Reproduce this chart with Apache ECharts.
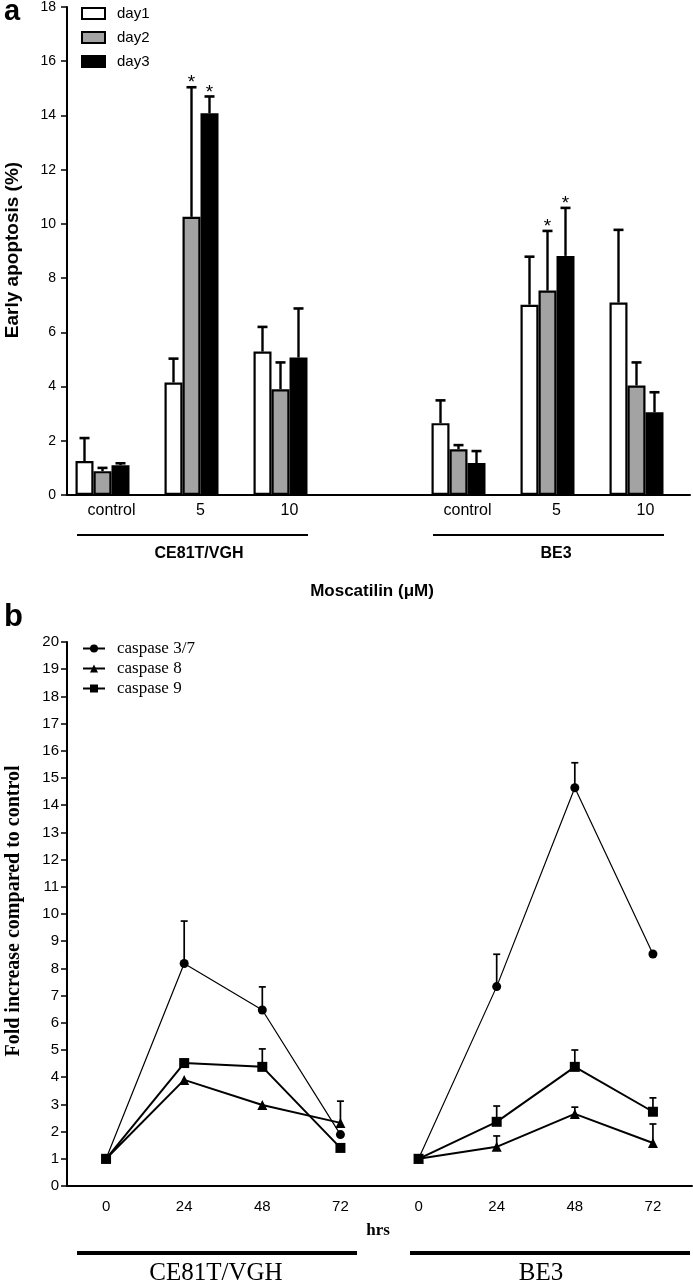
<!DOCTYPE html>
<html><head><meta charset="utf-8">
<script src="https://cdn.jsdelivr.net/npm/echarts@6/dist/echarts.min.js"></script>
<style>html,body{margin:0;padding:0;background:#fff}#c{width:693px;height:1281px}</style>
</head><body><div id="c"></div>
<script>
// ---------- Panel a data ----------
const doseCategories = ['control', '5', '10', '', 'control', '5', '10'];
const day1 = [1.25, 4.15, 5.29, '-', 2.65, 7.02, 7.10];
const day2 = [0.88, 10.26, 3.90, '-', 1.69, 7.54, 4.04];
const day3 = [1.10, 14.08, 5.07, '-', 1.18, 8.82, 3.05];
const day1Upper = [2.10, 5.03, 6.20, '-', 3.49, 8.79, 9.78];
const day2Upper = [1.00, 15.04, 4.89, '-', 1.84, 9.74, 4.89];
const day3Upper = [1.17, 14.70, 6.88, '-', 1.62, 10.59, 3.79];
const day1Sig = ['', '', '', '', '', '', ''];
const day2Sig = ['', '*', '', '', '', '*', ''];
const day3Sig = ['', '*', '', '', '', '*', ''];

// ---------- Panel b data ----------
const hourCategories = ['0', '24', '48', '72', '0', '24', '48', '72'];
const casp37CE = [1, 8.18, 6.47, 1.89];
const casp8CE  = [1, 3.90, 2.98, 2.32];
const casp9CE  = [1, 4.52, 4.38, 1.40];
const casp37BE = [1, 7.33, 14.64, 8.53];
const casp8BE  = [1, 1.44, 2.65, 1.58];
const casp9BE  = [1, 2.36, 4.38, 2.73];
const casp37CEUpper = [null, 9.74, 7.32, null];
const casp8CEUpper  = [null, null, null, 3.12];
const casp9CEUpper  = [null, null, 5.04, null];
const casp37BEUpper = [null, 8.52, 15.56, null];
const casp8BEUpper  = [null, 1.84, 2.90, 2.28];
const casp9BEUpper  = [null, 2.94, 5.00, 3.24];

// ---------- styling constants ----------
const SANS = '"Liberation Sans", Arial, sans-serif';
const SERIF = '"Liberation Serif", "Times New Roman", serif';
const BAR_W = 18;
const INK = '#000';

// error bar data for panel a
const barErr = [], barErrSig = [];
[[day1, day1Upper, day1Sig], [day2, day2Upper, day2Sig], [day3, day3Upper, day3Sig]].forEach((s, k) => {
  s[0].forEach((v, i) => {
    if (v === '-') return;
    barErr.push([i, v, s[1][i], k]);
    barErrSig.push(s[2][i]);
  });
});

function renderBarErr(params, api) {
  const i = api.value(0), v = api.value(1), up = api.value(2), k = api.value(3);
  const off = (k - 1.5) * BAR_W;
  const a = api.coord([i, v]), b = api.coord([i, up]);
  const x = a[0] + off;
  const children = [
    {type: 'line', shape: {x1: x, y1: a[1], x2: x, y2: b[1]}, style: {stroke: INK, lineWidth: 2.4}},
    {type: 'line', shape: {x1: x - 5, y1: b[1], x2: x + 5, y2: b[1]}, style: {stroke: INK, lineWidth: 2.6}}
  ];
  const sig = barErrSig[params.dataIndex];
  if (sig) {
    children.push({type: 'text', style: {x: x, y: b[1] - 4, text: sig, font: '19px ' + SANS, fill: INK,
      textAlign: 'center', textVerticalAlign: 'middle'}});
  }
  return {type: 'group', children};
}

function lineErrData(upper, vals, shift) {
  const out = [];
  upper.forEach((u, i) => { if (u != null) out.push([i + shift, vals[i], u]); });
  return out;
}
const lineErr = [].concat(
  lineErrData(casp37CEUpper, casp37CE, 0), lineErrData(casp8CEUpper, casp8CE, 0), lineErrData(casp9CEUpper, casp9CE, 0),
  lineErrData(casp37BEUpper, casp37BE, 4), lineErrData(casp8BEUpper, casp8BE, 4), lineErrData(casp9BEUpper, casp9BE, 4));

function renderLineErr(params, api) {
  const a = api.coord([api.value(0), api.value(1)]);
  const b = api.coord([api.value(0), api.value(2)]);
  return {type: 'group', children: [
    {type: 'line', shape: {x1: a[0], y1: a[1], x2: b[0], y2: b[1]}, style: {stroke: INK, lineWidth: 1.7}},
    {type: 'line', shape: {x1: b[0] - 3.5, y1: b[1], x2: b[0] + 3.5, y2: b[1]}, style: {stroke: INK, lineWidth: 1.7}}
  ]};
}

const pad = ['-', '-', '-', '-'];
function lineSeries(name, vals, be, symbol, size, lw) {
  return {
    type: 'line', name, xAxisIndex: 1, yAxisIndex: 1,
    data: be ? pad.concat(vals) : vals.concat(pad),
    symbol, symbolSize: size, showSymbol: true,
    lineStyle: {color: '#000', width: lw},
    itemStyle: {color: '#000'}, z: 3, animation: false
  };
}

function barSeries(name, data, color) {
  return {type: 'bar', name, data, xAxisIndex: 0, yAxisIndex: 0,
    barWidth: BAR_W, barGap: '0%',
    itemStyle: {color, borderColor: '#000', borderWidth: 2.2}, animation: false};
}

const chart = echarts.init(document.getElementById('c'), null, {renderer: 'canvas'});
chart.setOption({
  animation: false,
  backgroundColor: '#fff',
  grid: [
    {left: 67, right: 3, top: 5, height: 490},
    {left: 67, right: 1, top: 642, height: 544}
  ],
  xAxis: [
    {type: 'category', gridIndex: 0, data: doseCategories,
      axisLine: {lineStyle: {color: '#000', width: 2}},
      axisTick: {alignWithLabel: true, length: 5, lineStyle: {color: '#000', width: 1.5}},
      axisLabel: {color: INK, fontFamily: SANS, fontSize: 16, margin: 8}},
    {type: 'category', gridIndex: 1, data: hourCategories,
      axisLine: {lineStyle: {color: '#000', width: 2}},
      axisTick: {alignWithLabel: true, length: 5, lineStyle: {color: '#000', width: 1.5}},
      axisLabel: {color: INK, fontFamily: SANS, fontSize: 15, margin: 13}}
  ],
  yAxis: [
    {type: 'value', gridIndex: 0, min: 0, max: 18, interval: 2,
      axisLine: {show: true, lineStyle: {color: '#000', width: 2}},
      axisTick: {show: true, length: 6, lineStyle: {color: '#000', width: 1.5}},
      axisLabel: {color: INK, fontFamily: SANS, fontSize: 14, margin: 11},
      splitLine: {show: false}},
    {type: 'value', gridIndex: 1, min: 0, max: 20, interval: 1,
      axisLine: {show: true, lineStyle: {color: '#000', width: 2}},
      axisTick: {show: true, length: 6, lineStyle: {color: '#000', width: 1.5}},
      axisLabel: {color: INK, fontFamily: SANS, fontSize: 15, margin: 8},
      splitLine: {show: false}}
  ],
  legend: [
    {data: ['day1', 'day2', 'day3'], orient: 'vertical', left: 81, top: 6, padding: 0,
      icon: 'rect', itemWidth: 23, itemHeight: 11, itemGap: 9,
      itemStyle: {borderColor: '#000', borderWidth: 2},
      textStyle: {fontFamily: SANS, fontSize: 15, color: INK, padding: [0, 0, 0, 7]}},
    {data: ['caspase 3/7', 'caspase 8', 'caspase 9'], orient: 'vertical', left: 82, top: 640, padding: 0,
      itemWidth: 22, itemHeight: 10, itemGap: 3,
      textStyle: {fontFamily: SERIF, fontSize: 17, color: INK, padding: [0, 0, 0, 7]}}
  ],
  series: [
    barSeries('day1', day1, '#ffffff'),
    barSeries('day2', day2, '#a3a3a3'),
    barSeries('day3', day3, '#000000'),
    {type: 'bar', name: 'spacer', data: doseCategories.map(() => '-'), xAxisIndex: 0, yAxisIndex: 0,
      barWidth: BAR_W, barGap: '0%', silent: true, itemStyle: {color: 'rgba(0,0,0,0)'}},
    {type: 'custom', xAxisIndex: 0, yAxisIndex: 0, data: barErr, renderItem: renderBarErr,
      encode: {x: 0, y: [1, 2]}, z: 1, silent: true},
    lineSeries('caspase 3/7', casp37CE, false, 'circle', 9, 1.2),
    lineSeries('caspase 8', casp8CE, false, 'triangle', 10, 2),
    lineSeries('caspase 9', casp9CE, false, 'rect', 10, 2),
    lineSeries('caspase 3/7', casp37BE, true, 'circle', 9, 1.2),
    lineSeries('caspase 8', casp8BE, true, 'triangle', 10, 2),
    lineSeries('caspase 9', casp9BE, true, 'rect', 10, 2),
    {type: 'custom', xAxisIndex: 1, yAxisIndex: 1, data: lineErr, renderItem: renderLineErr,
      encode: {x: 0, y: [1, 2]}, z: 2, silent: true}
  ],
  graphic: [
    {type: 'text', left: 4, top: -3, style: {text: 'a', font: 'bold 29px ' + SANS, fill: '#000'}},
    {type: 'text', left: 4, top: 602, style: {text: 'b', font: 'bold 31px ' + SANS, fill: '#000'}},
    {type: 'text', x: 13, y: 250, rotation: Math.PI / 2,
      style: {text: 'Early apoptosis (%)', font: 'bold 19px ' + SANS, fill: '#000', textAlign: 'center', textVerticalAlign: 'middle'}},
    {type: 'text', x: 14, y: 911, rotation: Math.PI / 2,
      style: {text: 'Fold increase compared to control', font: 'bold 20px ' + SERIF, fill: '#000', textAlign: 'center', textVerticalAlign: 'middle'}},
    {type: 'line', shape: {x1: 77, y1: 535, x2: 308, y2: 535}, style: {stroke: '#000', lineWidth: 2}},
    {type: 'line', shape: {x1: 433, y1: 535, x2: 664, y2: 535}, style: {stroke: '#000', lineWidth: 2}},
    {type: 'text', x: 199, y: 554, style: {text: 'CE81T/VGH', font: 'bold 16px ' + SANS, fill: '#000', textAlign: 'center', textVerticalAlign: 'middle'}},
    {type: 'text', x: 556, y: 554, style: {text: 'BE3', font: 'bold 16px ' + SANS, fill: '#000', textAlign: 'center', textVerticalAlign: 'middle'}},
    {type: 'text', x: 372, y: 591, style: {text: 'Moscatilin (\u03bcM)', font: 'bold 17px ' + SANS, fill: '#000', textAlign: 'center', textVerticalAlign: 'middle'}},
    {type: 'text', x: 378, y: 1231, style: {text: 'hrs', font: 'bold 17px ' + SERIF, fill: '#000', textAlign: 'center', textVerticalAlign: 'middle'}},
    {type: 'line', shape: {x1: 77, y1: 1253, x2: 357, y2: 1253}, style: {stroke: '#000', lineWidth: 4}},
    {type: 'line', shape: {x1: 410, y1: 1253, x2: 690, y2: 1253}, style: {stroke: '#000', lineWidth: 4}},
    {type: 'text', x: 216, y: 1273, style: {text: 'CE81T/VGH', font: '25px ' + SERIF, fill: '#000', textAlign: 'center', textVerticalAlign: 'middle'}},
    {type: 'text', x: 541, y: 1273, style: {text: 'BE3', font: '25px ' + SERIF, fill: '#000', textAlign: 'center', textVerticalAlign: 'middle'}}
  ]
});
</script>
</body></html>
